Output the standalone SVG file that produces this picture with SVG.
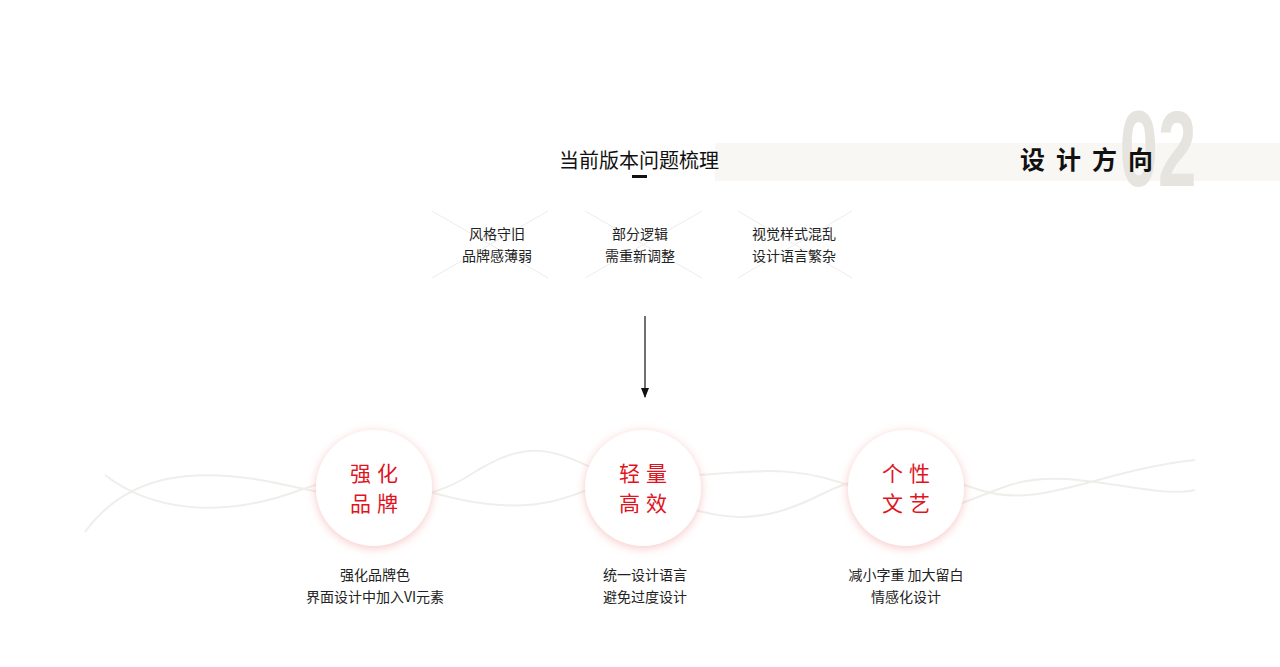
<svg xmlns="http://www.w3.org/2000/svg" width="1280" height="667" viewBox="0 0 1280 667">
<defs>
<style>
.t{font-family:"Noto Sans CJK SC","Noto Sans",sans-serif;}
.s{font-size:14px;fill:#222;text-anchor:middle}
.r{font-size:21px;fill:#e0141e;text-anchor:middle;letter-spacing:6px}
.x{stroke:#ececec;stroke-width:1}
.w{fill:none;stroke:#efeeea;stroke-width:2}
</style>
<filter id="g" x="-30%" y="-30%" width="160%" height="160%"><feDropShadow dx="0" dy="2" stdDeviation="5" flood-color="#f08080" flood-opacity="0.45"/></filter>
<marker id="a" markerWidth="10" markerHeight="8" refX="9" refY="4" orient="auto" markerUnits="userSpaceOnUse"><path d="M0,0L10,4L0,8Z" fill="#111"/></marker>
</defs>
<rect width="1280" height="667" fill="#fff"/>
<g id="header">
<rect x="715" y="143" width="565" height="38" fill="#f8f7f4"/>
<text x="1158" y="186" font-family="Liberation Sans,sans-serif" font-weight="bold" font-size="108" fill="#e6e4de" text-anchor="middle" transform="translate(1158 0) scale(0.64 1) translate(-1158 0)">02</text>
<text class="t" x="1092" y="169" font-size="25" font-weight="bold" fill="#111" text-anchor="middle" letter-spacing="11">设计方向</text>
<text class="t" x="639" y="168" font-size="20" fill="#111" text-anchor="middle">当前版本问题梳理</text>
<rect x="632" y="175" width="15" height="3" fill="#111"/>
</g>
<g id="problems">
<path class="x" d="M432,211L548,278M548,211L432,278M585,211L702,278M702,211L585,278M738,211L852,278M852,211L738,278"/>
<text class="t s" x="497" y="239">风格守旧</text><text class="t s" x="497" y="261">品牌感薄弱</text>
<text class="t s" x="640" y="239">部分逻辑</text><text class="t s" x="640" y="261">需重新调整</text>
<text class="t s" x="794" y="239">视觉样式混乱</text><text class="t s" x="794" y="261">设计语言繁杂</text>
</g>
<g id="connectors">
<line x1="645" y1="316" x2="645" y2="397" stroke="#111" stroke-width="1.2" marker-end="url(#a)"/>
<path class="w" d="M85,532 C130,470 200,470 260,480 S 400,520 470,475 S 560,455 640,490 S 760,525 820,495 S 920,470 980,490 S 1100,470 1195,460"/>
<path class="w" d="M105,475 C150,510 220,520 300,490 S 420,500 500,505 S 600,470 660,475 S 780,455 860,490 S 950,505 1010,485 S 1150,500 1195,490"/>
</g>
<g id="n1"><circle cx="374" cy="488" r="58" fill="#fff" filter="url(#g)"/>
<text class="t r" x="377" y="481">强化</text><text class="t r" x="377" y="511">品牌</text>
<text class="t s" x="375" y="580">强化品牌色</text><text class="t s" x="375" y="602">界面设计中加入VI元素</text></g>
<g id="n2"><circle cx="643" cy="488" r="58" fill="#fff" filter="url(#g)"/>
<text class="t r" x="646" y="481">轻量</text><text class="t r" x="646" y="511">高效</text>
<text class="t s" x="645" y="580">统一设计语言</text><text class="t s" x="645" y="602">避免过度设计</text></g>
<g id="n3"><circle cx="906" cy="488" r="58" fill="#fff" filter="url(#g)"/>
<text class="t r" x="909" y="481">个性</text><text class="t r" x="909" y="511">文艺</text>
<text class="t s" x="906" y="580">减小字重 加大留白</text><text class="t s" x="906" y="602">情感化设计</text></g>
</svg>
